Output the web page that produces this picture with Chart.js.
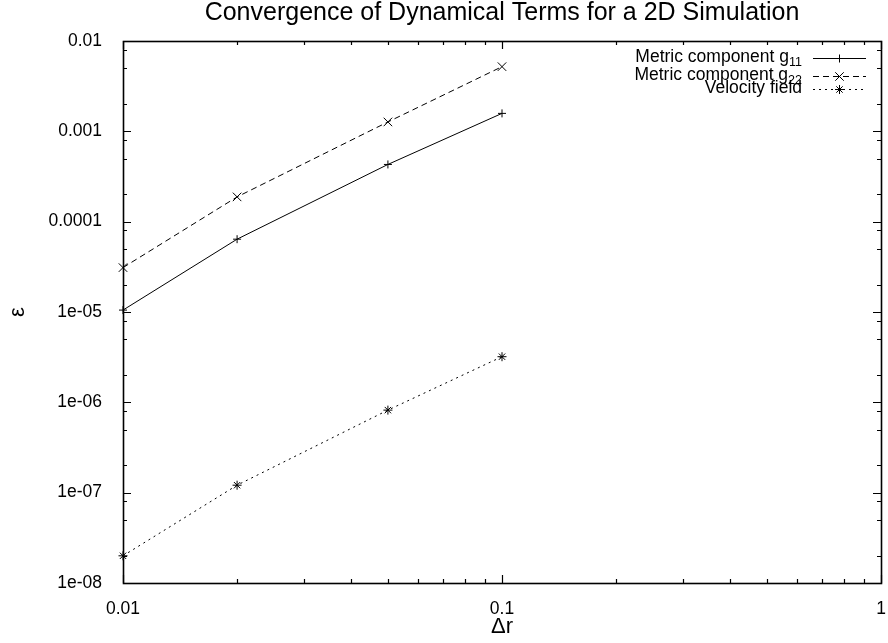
<!DOCTYPE html>
<html>
<head>
<meta charset="utf-8">
<script src="https://cdn.jsdelivr.net/npm/chart.js@4.4.0/dist/chart.umd.min.js"></script>
<style>
  html, body { margin: 0; padding: 0; background: #fff; }
  #wrap { width: 888px; height: 643px; }
</style>
</head>
<body>
<div id="wrap"><canvas id="chart"></canvas></div>
<script>
//Grid spacing (delta r)
const dr = [0.01, 0.02, 0.05, 0.1];
//Errors
const g11Err = [1.05e-5, 6.4e-5, 4.3e-4, 1.58e-3];
const g22Err = [3.1e-5, 1.88e-4, 1.27e-3, 5.2e-3];
const velErr = [2.0e-8, 1.21e-7, 8.2e-7, 3.2e-6];
//Legend names, subscripts kept apart
const seriesNames = ["Metric component g", "Metric component g", "Velocity field"];
const seriesSubs = ["11", "22", ""];
//Tick labels like gnuplot prints them
const xTickValues = [0.01, 0.1, 1];
const xTickLabels = ["0.01", "0.1", "1"];
const yTickValues = [1e-8, 1e-7, 1e-6, 1e-5, 1e-4, 1e-3, 1e-2];
const yTickLabels = ["1e-08", "1e-07", "1e-06", "1e-05", "0.0001", "0.001", "0.01"];
const xMinorSteps = [2, 3, 4, 5, 6, 7, 8, 9];
const yMinorSteps = [2, 5, 8];

const FONT = "'Liberation Sans', Arial, Helvetica, sans-serif";

//Frame box and inward ticks on all four sides
const frameTicks = {
  id: "frameTicks",
  afterDatasetsDraw(chart) {
    const { ctx, chartArea: a, scales } = chart;
    const xs = scales.x, ys = scales.y;
    ctx.save();
    ctx.strokeStyle = "#000";
    ctx.lineWidth = 1.2;
    ctx.beginPath();
    function xTick(v, len) {
      const px = Math.round(xs.getPixelForValue(v)) + 0.5;
      ctx.moveTo(px, a.bottom); ctx.lineTo(px, a.bottom - len);
      ctx.moveTo(px, a.top); ctx.lineTo(px, a.top + len);
    }
    function yTick(v, len) {
      const py = Math.round(ys.getPixelForValue(v)) + 0.5;
      ctx.moveTo(a.left, py); ctx.lineTo(a.left + len, py);
      ctx.moveTo(a.right, py); ctx.lineTo(a.right - len, py);
    }
    xTickValues.forEach((v, i) => {
      xTick(v, 8);
      if (i < xTickValues.length - 1) xMinorSteps.forEach((m) => xTick(m * v, 4));
    });
    yTickValues.forEach((v, i) => {
      yTick(v, 8);
      if (i < yTickValues.length - 1) yMinorSteps.forEach((m) => yTick(m * v, 4));
    });
    ctx.stroke();
    ctx.lineWidth = 1.6;
    ctx.strokeRect(Math.round(a.left) + 0.5, Math.round(a.top) + 0.5,
      Math.round(a.right - a.left), Math.round(a.bottom - a.top));
    ctx.restore();
  },
};

//gnuplot style key: text right aligned, sample to the right
const gnuLegend = {
  id: "gnuLegend",
  afterDraw(chart) {
    const ctx = chart.ctx;
    const rowY = [58, 76, 89];
    const textRight = 802, x0 = 813, x1 = 866;
    chart.data.datasets.forEach((ds, i) => {
      const y = rowY[i];
      ctx.save();
      ctx.fillStyle = "#000";
      ctx.textBaseline = "alphabetic";
      ctx.textAlign = "left";
      ctx.font = "12.5px " + FONT;
      const subW = seriesSubs[i] ? ctx.measureText(seriesSubs[i]).width : 0;
      ctx.font = "17.5px " + FONT;
      const mainW = ctx.measureText(seriesNames[i]).width;
      const tx = textRight - subW - mainW;
      ctx.fillText(seriesNames[i], tx, y + 4);
      if (seriesSubs[i]) {
        ctx.font = "12.5px " + FONT;
        ctx.fillText(seriesSubs[i], tx + mainW, y + 8);
      }
      //sample line
      ctx.strokeStyle = "#000";
      ctx.lineWidth = 1;
      ctx.setLineDash(ds.borderDash || []);
      ctx.beginPath();
      ctx.moveTo(x0, y + 0.5);
      ctx.lineTo(x1, y + 0.5);
      ctx.stroke();
      ctx.setLineDash([]);
      Chart.helpers.drawPoint(ctx, {
        pointStyle: ds.pointStyle,
        radius: ds.pointRadius,
        rotation: 0,
        borderWidth: 1,
      }, (x0 + x1) / 2, y + 0.5);
      ctx.restore();
    });
  },
};

function makeSet(name, ys, dash, style, radius) {
  return {
    label: name,
    data: dr.map((x, i) => ({ x: x, y: ys[i] })),
    borderColor: "#000",
    backgroundColor: "#000",
    borderWidth: 1,
    borderDash: dash,
    pointStyle: style,
    pointRadius: radius,
    pointBorderWidth: 1,
    pointBorderColor: "#000",
    pointBackgroundColor: "#000",
    tension: 0,
    clip: false,
  };
}

new Chart(document.getElementById("chart"), {
  type: "line",
  data: {
    datasets: [
      makeSet(seriesNames[0] + seriesSubs[0], g11Err, [], "cross", 4),
      makeSet(seriesNames[1] + seriesSubs[1], g22Err, [6, 4], "crossRot", 6),
      makeSet(seriesNames[2], velErr, [2, 4], "star", 4.5),
    ],
  },
  options: {
    responsive: true,
    maintainAspectRatio: false,
    animation: false,
    layout: { padding: { left: 0, right: 2, top: 0, bottom: 0 } },
    plugins: {
      legend: { display: false },
      tooltip: { enabled: false },
      title: {
        display: true,
        fullSize: false,
        text: "Convergence of Dynamical Terms for a 2D Simulation",
        color: "#000",
        font: { family: FONT, size: 25, weight: "normal", lineHeight: 1 },
        padding: { top: 1, bottom: 15 },
      },
    },
    scales: {
      x: {
        type: "logarithmic",
        min: 0.01,
        max: 1,
        grid: { display: false },
        border: { display: false },
        afterBuildTicks: (s) => { s.ticks = xTickValues.map((v) => ({ value: v })); },
        afterFit: (s) => { s.height = 60; s.paddingLeft = 0; s.paddingRight = 0; },
        ticks: {
          autoSkip: false,
          maxRotation: 0,
          color: "#000",
          padding: 8,
          font: { family: FONT, size: 17.5 },
          callback: (v, i) => xTickLabels[i],
        },
        title: {
          display: true,
          text: "Δr",
          color: "#000",
          font: { family: FONT, size: 22 },
          padding: { top: 0, bottom: 3 },
        },
      },
      y: {
        type: "logarithmic",
        min: 1e-8,
        max: 1e-2,
        grid: { display: false },
        border: { display: false },
        afterBuildTicks: (s) => { s.ticks = yTickValues.map((v) => ({ value: v })); },
        afterFit: (s) => { s.width = 123; },
        ticks: {
          autoSkip: false,
          color: "#000",
          padding: 13,
          font: { family: FONT, size: 17.5 },
          callback: (v, i) => yTickLabels[i],
        },
        title: {
          display: true,
          text: "ε",
          color: "#000",
          font: { family: FONT, size: 22 },
          padding: { top: 5, bottom: 0 },
        },
      },
    },
  },
  plugins: [frameTicks, gnuLegend],
});
</script>
</body>
</html>
